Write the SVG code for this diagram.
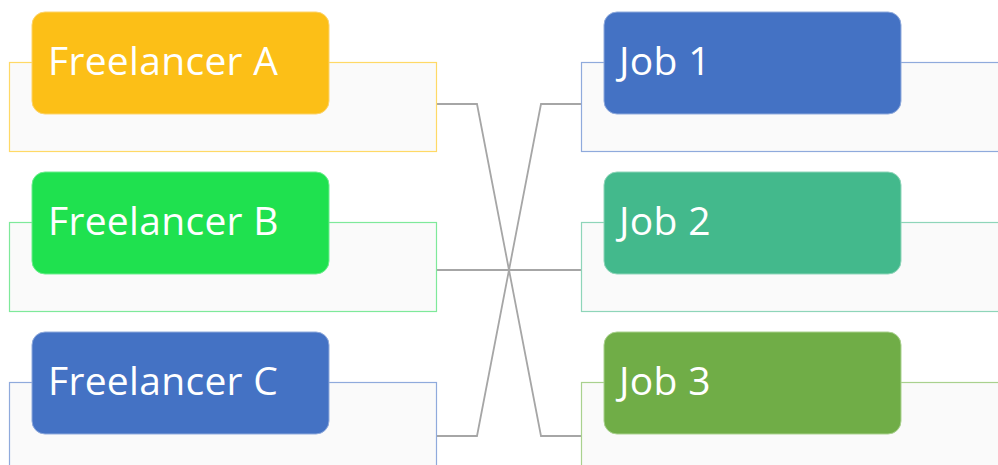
<svg xmlns="http://www.w3.org/2000/svg" width="998" height="465" viewBox="0 0 998 465">
<style>
.bg{fill:#fafafa;stroke-width:1.2}
.tab{stroke-width:1}
.lbl{font-family:"Open Sans","Noto Sans",sans-serif;font-size:39px;fill:#ffffff;letter-spacing:0.3px}
.con{fill:none;stroke:#a6a6a6;stroke-width:1.8}
</style>
<rect width="998" height="465" fill="#ffffff"/>
<g id="connectors">
<polyline class="con" points="436,104 477,104 541,436 581,436"/>
<polyline class="con" points="436,436 477,436 541,104 581,104"/>
<polyline class="con" points="436,270 581,270"/>
</g>
<g id="freelancer-a">
<rect class="bg" x="9.5" y="62.5" width="427" height="89" stroke="#ffd966"/>
<rect class="tab" x="32" y="12" width="297" height="102" rx="13" fill="#fcbf17" stroke="#fdd36a"/>
<text class="lbl" x="48" y="75">Freelancer A</text>
</g>
<g id="freelancer-b">
<rect class="bg" x="9.5" y="222.5" width="427" height="89" stroke="#7ee99a"/>
<rect class="tab" x="32" y="172" width="297" height="102" rx="13" fill="#1fe14f" stroke="#6ded8d"/>
<text class="lbl" x="48" y="235">Freelancer B</text>
</g>
<g id="freelancer-c">
<rect class="bg" x="9.5" y="382.5" width="427" height="89" stroke="#8faadc"/>
<rect class="tab" x="32" y="332" width="297" height="102" rx="13" fill="#4472c4" stroke="#8faadc"/>
<text class="lbl" x="48" y="395">Freelancer C</text>
</g>
<g id="job-1">
<rect class="bg" x="581.5" y="62.5" width="427" height="89" stroke="#8faadc"/>
<rect class="tab" x="604" y="12" width="297" height="102" rx="13" fill="#4472c4" stroke="#8faadc"/>
<text class="lbl" x="619" y="75">Job 1</text>
</g>
<g id="job-2">
<rect class="bg" x="581.5" y="222.5" width="427" height="89" stroke="#8ed5b9"/>
<rect class="tab" x="604" y="172" width="297" height="102" rx="13" fill="#43b98c" stroke="#8ed5b9"/>
<text class="lbl" x="619" y="235">Job 2</text>
</g>
<g id="job-3">
<rect class="bg" x="581.5" y="382.5" width="427" height="89" stroke="#a9d18e"/>
<rect class="tab" x="604" y="332" width="297" height="102" rx="13" fill="#70ad47" stroke="#a9d18e"/>
<text class="lbl" x="619" y="395">Job 3</text>
</g>
</svg>
